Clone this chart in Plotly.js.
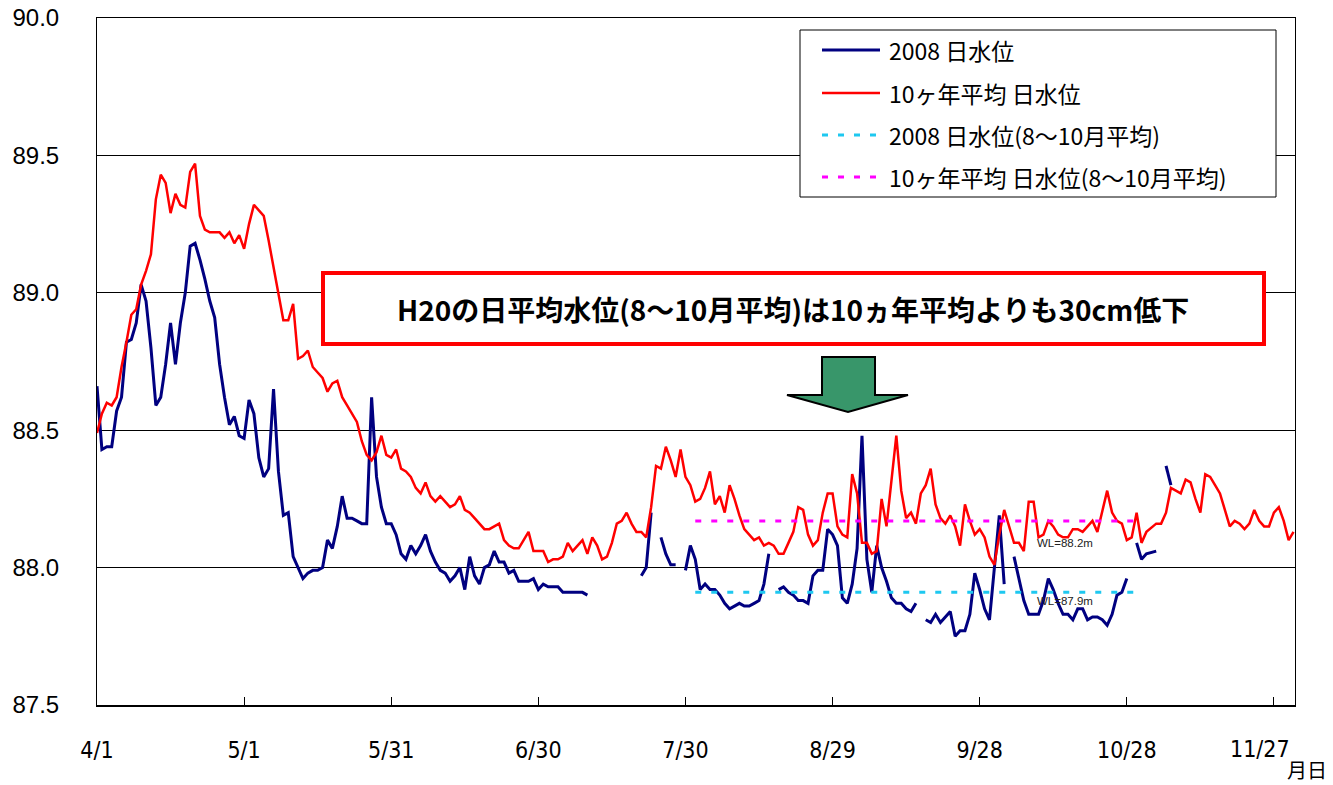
<!DOCTYPE html>
<html><head><meta charset="utf-8">
<script src="https://cdn.plot.ly/plotly-3.0.1.min.js"></script>
<style>html,body{margin:0;padding:0;background:#fff}#chart{width:1333px;height:785px}</style>
</head><body><div id="chart"></div>
<script>
// x axis: days since 4/1
const tickDays = [0, 30, 60, 90, 120, 150, 180, 210, 240];
const tickLabels = ['4/1', '5/1', '5/31', '6/30', '7/30', '8/29', '9/28', '10/28', '11/27'];

// 2008 daily water level (null = missing)
const obsDays = [
  0,1,2,3,4,5,6,7,8,9,10,11,12,13,14,15,16,17,18,19,20,21,22,23,24,25,26,27,28,29,30,
  31,32,33,34,35,36,37,38,39,40,41,42,43,44,45,46,47,48,49,50,51,52,53,54,55,56,57,58,59,60,
  61,62,63,64,65,66,67,68,69,70,71,72,73,74,75,76,77,78,79,80,81,82,83,84,85,86,87,88,89,90,
  91,92,93,94,95,96,97,98,99,100, null,
  111,112,113, null,
  115,116,117,118, null,
  120,121,122,123,124,125,126,127,128,129,130,131,132,133,134,135,136,137, null,
  139,140,141,142,143,144,145,146,147,148,149,150,151,152,153,154,155,156,157,158,159,160,
  161,162,163,164,165,166,167, null,
  169,170,171,172,173,174,175,176,177,178,179,180,181,182,183,184,185, null,
  187,188,189,190,191,192,193,194,195,196,197,198,199,200,201,202,203,204,205,206,207,208,209,210, null,
  212,213,214,216, null,
  218,219
];
const obsLevel = [
  88.66,88.43,88.44,88.44,88.57,88.62,88.82,88.83,88.89,89.03,88.97,88.80,88.59,88.62,88.74,88.89,
  88.74,88.89,89.00,89.17,89.18,89.12,89.05,88.97,88.91,88.74,88.62,88.52,88.55,88.48,88.47,
  88.61,88.56,88.40,88.33,88.36,88.65,88.35,88.19,88.20,88.04,88.00,87.96,87.98,87.99,87.99,
  88.00,88.10,88.07,88.15,88.26,88.18,88.18,88.17,88.16,88.16,88.62,88.33,88.22,88.16,88.16,
  88.12,88.05,88.03,88.08,88.05,88.08,88.12,88.06,88.02,87.99,87.98,87.95,87.97,88.00,87.92,
  88.04,87.97,87.94,88.00,88.01,88.06,88.02,88.02,87.98,87.99,87.95,87.95,87.95,87.96,87.92,
  87.94,87.93,87.93,87.93,87.91,87.91,87.91,87.91,87.91,87.90, null,
  87.97,88.00,88.20, null,
  88.11,88.05,88.01,88.01, null,
  87.99,88.08,88.03,87.92,87.94,87.92,87.92,87.90,87.87,87.85,87.86,87.87,87.86,87.86,87.87,87.88,87.94,88.05, null,
  87.92,87.93,87.91,87.90,87.88,87.88,87.87,87.97,87.99,87.99,88.14,88.12,88.08,87.89,87.87,87.94,
  88.07,88.48,88.03,87.91,88.08,88.00,87.95,87.89,87.87,87.87,87.85,87.84,87.87, null,
  87.81,87.80,87.83,87.80,87.82,87.84,87.75,87.77,87.77,87.83,87.98,87.92,87.85,87.81,88.00,88.19,87.94, null,
  88.04,87.96,87.88,87.83,87.83,87.83,87.88,87.96,87.92,87.87,87.83,87.83,87.81,87.85,87.85,87.81,
  87.82,87.82,87.81,87.79,87.83,87.90,87.91,87.96, null,
  88.09,88.03,88.05,88.06, null,
  88.37,88.30
];

// 10-year average daily water level
const avgDays = [
  0,1,2,3,4,5,6,7,8,9,10,11,12,13,14,15,16,17,18,19,20,21,22,23,24,25,26,27,28,29,30,
  31,32,33,34,35,36,37,38,39,40,41,42,43,44,45,46,47,48,49,50,51,52,53,54,55,56,57,58,59,60,
  61,62,63,64,65,66,67,68,69,70,71,72,73,74,75,76,77,78,79,80,81,82,83,84,85,86,87,88,89,90,
  91,92,93,94,95,96,97,98,99,100,101,102,103,104,105,106,107,108,109,110,111,112,113,114,115,
  116,117,118,119,120,121,122,123,124,125,126,127,128,129,130,131,132,133,134,135,136,137,138,
  139,140,141,142,143,144,145,146,147,148,149,150,151,152,153,154,155,156,157,158,159,160,161,
  162,163,164,165,166,167,168,169,170,171,172,173,174,175,176,177,178,179,180,181,182,183,184,
  185,186,187,188,189,190,191,192,193,194,195,196,197,198,199,200,201,202,203,204,205,206,207,
  208,209,210,211,212,213,214,216,217,218,219,220,221,222,223,224,225,226,227,228,229,230,231,
  232,233,234,235,236,237,238,239,240,241,242,243,244
];
const avgLevel = [
  88.49,88.56,88.60,88.59,88.62,88.73,88.82,88.92,88.94,89.03,89.08,89.14,89.34,89.43,89.40,89.29,
  89.36,89.32,89.31,89.44,89.47,89.28,89.23,89.22,89.22,89.22,89.20,89.22,89.18,89.21,89.16,
  89.25,89.32,89.30,89.28,89.19,89.09,89.00,88.90,88.90,88.96,88.76,88.77,88.79,88.73,88.71,
  88.69,88.64,88.67,88.68,88.62,88.59,88.56,88.53,88.46,88.41,88.39,88.42,88.48,88.41,88.40,
  88.43,88.36,88.35,88.33,88.29,88.27,88.31,88.26,88.24,88.26,88.24,88.22,88.23,88.26,88.21,
  88.20,88.18,88.16,88.14,88.14,88.15,88.16,88.10,88.08,88.07,88.07,88.10,88.13,88.06,88.06,
  88.06,88.02,88.03,88.03,88.04,88.09,88.06,88.08,88.10,88.05,88.11,88.08,88.03,88.04,88.09,
  88.16,88.17,88.20,88.16,88.13,88.13,88.11,88.22,88.37,88.36,88.44,88.39,88.33,88.43,88.33,
  88.30,88.24,88.25,88.29,88.35,88.23,88.26,88.20,88.30,88.25,88.19,88.14,88.12,88.10,88.11,
  88.08,88.09,88.08,88.05,88.05,88.09,88.13,88.22,88.21,88.12,88.08,88.10,88.20,88.27,88.27,
  88.15,88.12,88.11,88.34,88.27,88.09,88.09,88.05,88.06,88.25,88.15,88.31,88.48,88.28,88.18,
  88.20,88.16,88.27,88.30,88.36,88.23,88.18,88.16,88.19,88.15,88.08,88.23,88.17,88.12,88.14,
  88.11,88.04,88.01,88.12,88.21,88.15,88.09,88.09,88.06,88.24,88.24,88.11,88.12,88.17,88.15,
  88.12,88.11,88.11,88.14,88.14,88.13,88.15,88.17,88.13,88.21,88.28,88.20,88.17,88.16,88.10,
  88.11,88.20,88.09,88.13,88.16,88.16,88.20,88.29,88.28,88.27,88.32,88.31,88.25,88.20,88.34,
  88.33,88.30,88.27,88.21,88.15,88.17,88.16,88.14,88.16,88.21,88.17,88.15,88.15,88.20,88.22,
  88.17,88.10,88.13
];

// Aug-Oct means
const periodDays = [122, 213];
const obsPeriodMean = [87.91, 87.91];
const avgPeriodMean = [88.17, 88.17];

const seriesNames = ['2008 日水位', '10ヶ年平均 日水位', '2008 日水位(8～10月平均)', '10ヶ年平均 日水位(8～10月平均)'];
const meanLabels = ['WL=88.2m', 'WL=87.9m'];
const noteText = 'H20の日平均水位(8～10月平均)は10ヵ年平均よりも30cm低下';
const xUnit = '月日';

const W = 1333, H = 785, L = 97, R = 38, T = 18, B = 80;
const pw = W - L - R, ph = H - T - B;
const px = x => (x - L) / pw;
const py = y => (H - B - y) / ph;

const JP = '"Noto Sans CJK JP", "Noto Sans CJK SC", sans-serif';
const XFONT = '"Liberation Sans Narrow", "DejaVu Sans Condensed", sans-serif';

const lineStyles = [
  {color: '#000080', width: 3},
  {color: '#ff0000', width: 2.5},
  {color: '#1ec8f0', width: 3, dash: '6px,10px'},
  {color: '#ff00ff', width: 3, dash: '6px,10px'}
];

const traces = [
  {x: obsDays, y: obsLevel, name: seriesNames[0], type: 'scatter', mode: 'lines', line: lineStyles[0], connectgaps: false},
  {x: avgDays, y: avgLevel, name: seriesNames[1], type: 'scatter', mode: 'lines', line: lineStyles[1]},
  {x: periodDays, y: obsPeriodMean, name: seriesNames[2], type: 'scatter', mode: 'lines', line: lineStyles[2]},
  {x: periodDays, y: avgPeriodMean, name: seriesNames[3], type: 'scatter', mode: 'lines', line: lineStyles[3]}
];

const arrowPts = [[822,357],[875,357],[875,395],[908,395],[848,412],[787,395],[822,395]];
const arrowPath = 'M' + arrowPts.map(p => px(p[0]).toFixed(5) + ',' + py(p[1]).toFixed(5)).join(' L') + ' Z';

// the last tick label is drawn as an annotation, nudged left as in the original
const axisLabels = tickLabels.map((t, i) => i === tickLabels.length - 1 ? '' : t);

// legend box (drawn as shapes + text)
const legendRowsPx = [50, 93, 135, 177];
const shapes = [
  {type: 'rect', xref: 'paper', yref: 'paper', x0: px(800), x1: px(1276), y0: py(197), y1: py(30),
   line: {color: '#000', width: 1}, fillcolor: '#fff', layer: 'above'},
  {type: 'rect', xref: 'paper', yref: 'paper', x0: px(323), x1: px(1264), y0: py(344), y1: py(273),
   line: {color: '#ff0000', width: 4}, fillcolor: '#fff', layer: 'above'},
  {type: 'path', xref: 'paper', yref: 'paper', path: arrowPath,
   line: {color: '#000', width: 2}, fillcolor: '#38966a', layer: 'above'}
];
const annotations = [
  {xref: 'paper', yref: 'paper', x: px(793), y: py(309), xanchor: 'center', yanchor: 'middle',
   text: '<b>' + noteText + '</b>', showarrow: false,
   font: {family: JP, size: 28, color: '#000'}},
  {xref: 'x', yref: 'y', x: 191.3, y: 88.09, xanchor: 'left', yanchor: 'middle',
   text: meanLabels[0], showarrow: false, font: {family: '"Liberation Sans", Arial, sans-serif', size: 11.5, color: '#222'}},
  {xref: 'x', yref: 'y', x: 191.3, y: 87.88, xanchor: 'left', yanchor: 'middle',
   text: meanLabels[1], showarrow: false, font: {family: '"Liberation Sans", Arial, sans-serif', size: 11.5, color: '#222'}},
  {xref: 'x', yref: 'paper', x: tickDays[tickDays.length - 1], xshift: -14, y: py(749), xanchor: 'center', yanchor: 'middle',
   text: tickLabels[tickLabels.length - 1], showarrow: false, font: {family: XFONT, size: 23, color: '#000'}},
  {xref: 'paper', yref: 'paper', x: px(1329), y: py(769), xanchor: 'right', yanchor: 'middle',
   text: xUnit, showarrow: false, font: {family: JP, size: 20, color: '#000'}}
];
seriesNames.forEach((name, i) => {
  const yy = py(legendRowsPx[i]);
  shapes.push({type: 'line', xref: 'paper', yref: 'paper', x0: px(822), x1: px(880), y0: yy, y1: yy,
    line: lineStyles[i], layer: 'above'});
  annotations.push({xref: 'paper', yref: 'paper', x: px(887), y: yy, xanchor: 'left', yanchor: 'middle',
    text: name, showarrow: false, font: {family: JP, size: 23, color: '#000'}});
});

const layout = {
  width: W, height: H,
  margin: {l: L, r: R, t: T, b: B, pad: 0},
  paper_bgcolor: '#fff', plot_bgcolor: '#fff',
  showlegend: false,
  xaxis: {
    range: [0, 244.3], tickmode: 'array', tickvals: tickDays, ticktext: axisLabels,
    ticks: 'inside', ticklen: 8, tickcolor: '#000', tickwidth: 1,
    showline: true, linecolor: '#000', linewidth: 1.5, mirror: true,
    showgrid: false, zeroline: false,
    tickfont: {family: XFONT, size: 23, color: '#000'},
    ticklabelstandoff: 24, fixedrange: true
  },
  yaxis: {
    range: [87.5, 90.0], tick0: 87.5, dtick: 0.5, tickformat: '.1f',
    showgrid: true, gridcolor: '#000', gridwidth: 1,
    showline: true, linecolor: '#000', linewidth: 1, mirror: true,
    ticks: '', zeroline: false,
    tickfont: {family: '"Liberation Sans", Arial, sans-serif', size: 24, color: '#000'},
    ticklabelstandoff: 32, fixedrange: true
  },
  shapes: shapes,
  annotations: annotations
};

Plotly.newPlot('chart', traces, layout, {displayModeBar: false, staticPlot: true});
</script>
</body></html>
